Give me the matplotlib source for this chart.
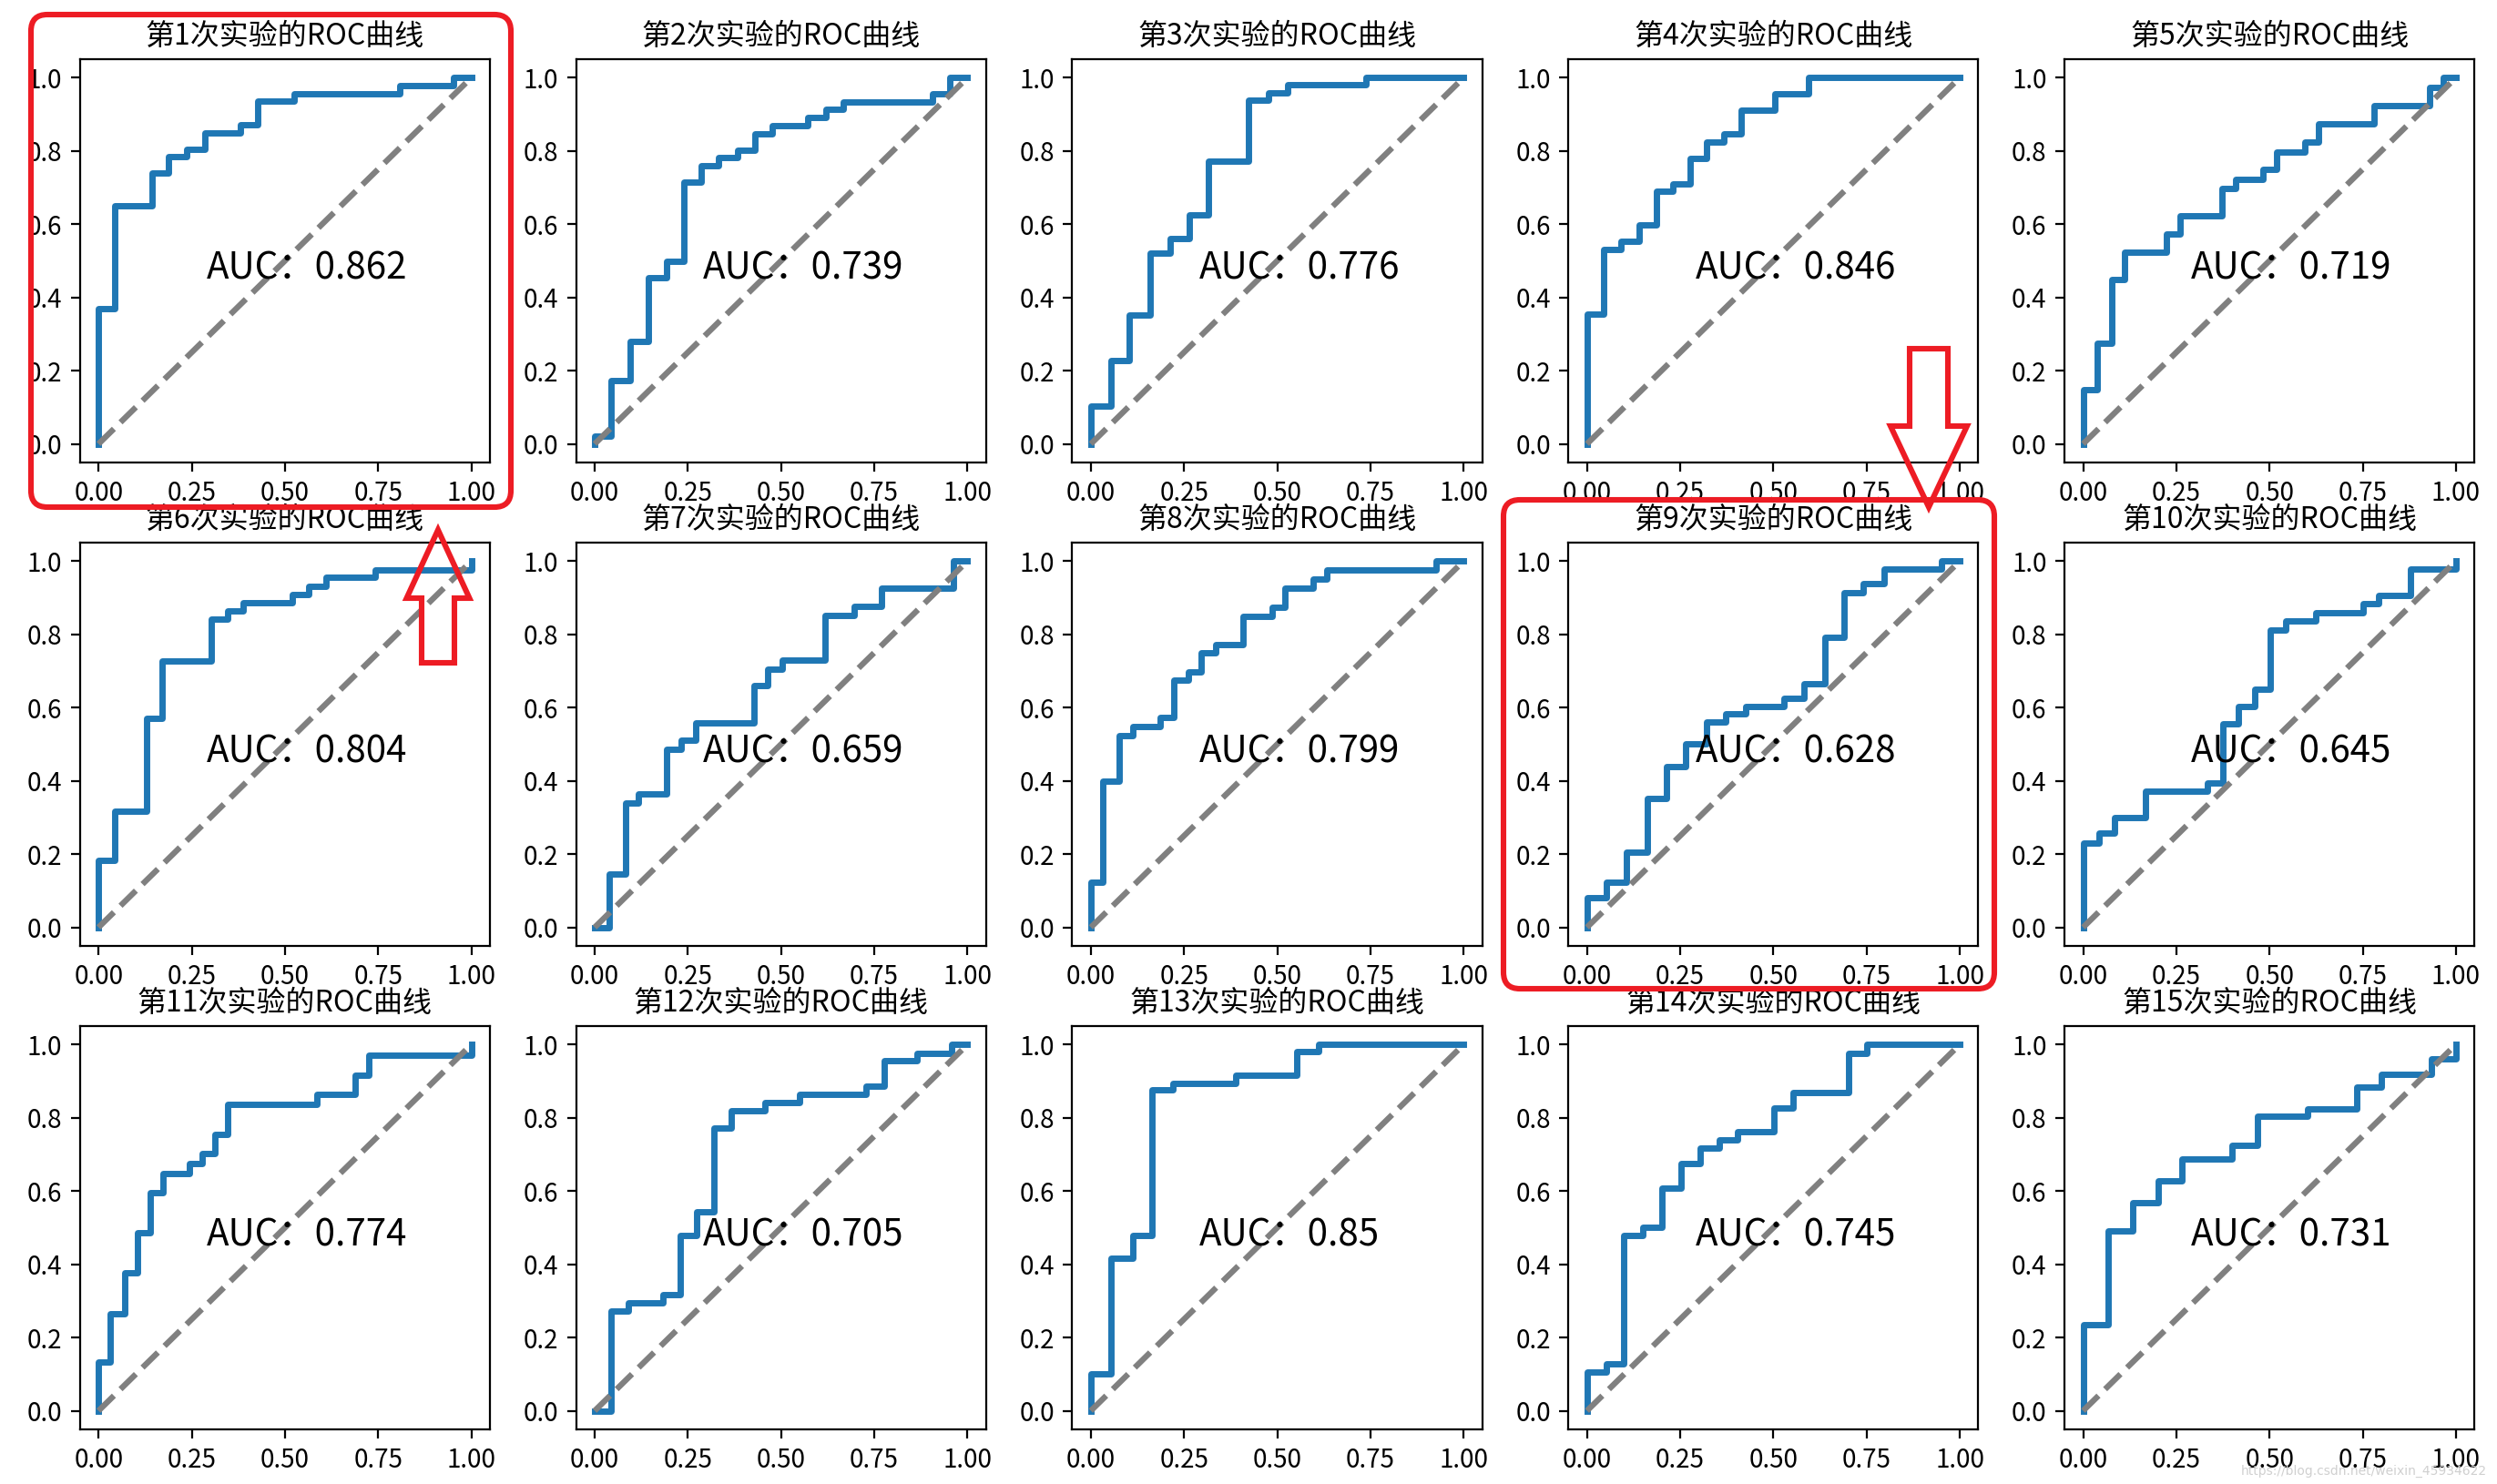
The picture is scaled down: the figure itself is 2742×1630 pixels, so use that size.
import matplotlib
matplotlib.use('Agg')
import matplotlib.pyplot as plt
from matplotlib.patches import FancyBboxPatch, FancyArrow

plt.rcParams['font.family'] = ['Noto Sans CJK SC', 'DejaVu Sans']
plt.rcParams['axes.unicode_minus'] = False

# ROC curves: x where tpr jumps (fpr) and tpr level after each jump
fpr_steps = [
    [0, 0.044, 0.143, 0.188, 0.236, 0.285, 0.380, 0.428, 0.525, 0.808, 0.952],
    [0, 0.044, 0.095, 0.145, 0.192, 0.240, 0.286, 0.333, 0.383, 0.430, 0.476, 0.571, 0.621, 0.668, 0.906, 0.952],
    [0, 0.053, 0.104, 0.160, 0.212, 0.265, 0.316, 0.423, 0.477, 0.528, 0.737],
    [0, 0.044, 0.092, 0.139, 0.187, 0.231, 0.277, 0.321, 0.366, 0.413, 0.503, 0.595],
    [0, 0.039, 0.076, 0.111, 0.224, 0.260, 0.372, 0.410, 0.482, 0.519, 0.595, 0.631, 0.781, 0.929, 0.965],
    [0, 0.044, 0.129, 0.171, 0.302, 0.346, 0.389, 0.521, 0.564, 0.610, 0.742, 1.0],
    [0.039, 0.082, 0.116, 0.192, 0.231, 0.272, 0.427, 0.464, 0.502, 0.617, 0.697, 0.770, 0.963],
    [0, 0.032, 0.075, 0.112, 0.185, 0.222, 0.261, 0.295, 0.334, 0.409, 0.486, 0.520, 0.596, 0.632, 0.927],
    [0, 0.053, 0.107, 0.162, 0.213, 0.265, 0.320, 0.371, 0.425, 0.529, 0.583, 0.638, 0.689, 0.740, 0.796, 0.952],
    [0, 0.042, 0.084, 0.168, 0.334, 0.375, 0.417, 0.460, 0.501, 0.543, 0.625, 0.751, 0.793, 0.877, 1.0],
    [0, 0.032, 0.070, 0.104, 0.139, 0.173, 0.244, 0.278, 0.312, 0.346, 0.587, 0.689, 0.725, 1.0],
    [0.044, 0.090, 0.184, 0.230, 0.274, 0.320, 0.366, 0.456, 0.549, 0.728, 0.776, 0.864, 0.957],
    [0, 0.054, 0.112, 0.165, 0.219, 0.389, 0.553, 0.610],
    [0, 0.051, 0.099, 0.150, 0.201, 0.252, 0.303, 0.354, 0.405, 0.502, 0.553, 0.702, 0.750],
    [0, 0.068, 0.133, 0.201, 0.266, 0.399, 0.467, 0.601, 0.734, 0.801, 0.935, 1.0],
]
tpr_steps = [
    [0.369, 0.651, 0.740, 0.784, 0.804, 0.849, 0.871, 0.935, 0.957, 0.978, 1.0],
    [0.022, 0.173, 0.280, 0.455, 0.498, 0.716, 0.760, 0.782, 0.802, 0.846, 0.868, 0.891, 0.913, 0.933, 0.957, 1.0],
    [0.104, 0.228, 0.353, 0.522, 0.562, 0.625, 0.773, 0.938, 0.958, 0.980, 1.0],
    [0.354, 0.531, 0.553, 0.599, 0.689, 0.711, 0.780, 0.824, 0.846, 0.911, 0.956, 1.0],
    [0.149, 0.274, 0.449, 0.524, 0.573, 0.624, 0.698, 0.722, 0.749, 0.798, 0.825, 0.873, 0.923, 0.973, 1.0],
    [0.183, 0.317, 0.570, 0.728, 0.842, 0.863, 0.887, 0.908, 0.932, 0.955, 0.977, 1.0],
    [0.146, 0.340, 0.364, 0.486, 0.510, 0.559, 0.660, 0.705, 0.730, 0.852, 0.876, 0.926, 1.0],
    [0.124, 0.400, 0.524, 0.548, 0.574, 0.674, 0.698, 0.750, 0.773, 0.850, 0.874, 0.925, 0.951, 0.977, 1.0],
    [0.081, 0.124, 0.206, 0.353, 0.439, 0.501, 0.561, 0.583, 0.604, 0.625, 0.666, 0.791, 0.915, 0.938, 0.979, 1.0],
    [0.229, 0.257, 0.300, 0.371, 0.394, 0.557, 0.604, 0.651, 0.812, 0.837, 0.859, 0.883, 0.906, 0.979, 1.0],
    [0.133, 0.266, 0.377, 0.487, 0.595, 0.648, 0.675, 0.702, 0.755, 0.837, 0.864, 0.917, 0.972, 1.0],
    [0.272, 0.294, 0.318, 0.478, 0.544, 0.771, 0.820, 0.842, 0.864, 0.886, 0.956, 0.977, 1.0],
    [0.102, 0.416, 0.478, 0.876, 0.895, 0.915, 0.980, 1.0],
    [0.105, 0.129, 0.478, 0.500, 0.607, 0.675, 0.718, 0.740, 0.762, 0.826, 0.869, 0.977, 1.0],
    [0.234, 0.491, 0.567, 0.627, 0.687, 0.725, 0.804, 0.824, 0.884, 0.919, 0.960, 1.0],
]
auc_values = [0.862, 0.739, 0.776, 0.846, 0.719, 0.804, 0.659, 0.799, 0.628, 0.645,
              0.774, 0.705, 0.85, 0.745, 0.731]

DPI = 200
W, H = 2742, 1630
fig, axes = plt.subplots(3, 5, figsize=(W / DPI, H / DPI), dpi=DPI)
fig.subplots_adjust(left=0.032, right=0.991, bottom=0.037, top=0.960, wspace=0.21, hspace=0.2)

for i, ax in enumerate(axes.flat):
    x = [0] + fpr_steps[i] + [1]
    y = [0] + tpr_steps[i] + [tpr_steps[i][-1]]
    ax.step(x, y, where='post', color='#1f77b4', lw=2.5)
    ax.plot([0, 1], [0, 1], '--', color='grey', lw=2.3)
    ax.text(0.29, 0.45, 'AUC：' + str(auc_values[i]), fontsize=14.5)
    ax.set_title('第%d次实验的ROC曲线' % (i + 1), fontsize=11.5)
    ax.set_xticks([0, 0.25, 0.5, 0.75, 1.0])
    ax.set_yticks([0, 0.2, 0.4, 0.6, 0.8, 1.0])


# red markup, positions given in image pixels (top-left origin)
def px(x, y):
    return x / DPI, (H - y) / DPI

red = '#ED1C24'
for (x0, y0, x1, y1) in [(34, 16, 561, 557), (1651, 549, 2190, 1086)]:
    bx, by = px(x0, y1)
    box = FancyBboxPatch((bx, by), (x1 - x0) / DPI, (y1 - y0) / DPI,
                         boxstyle='round,pad=0,rounding_size=0.09',
                         fill=False, ec=red, lw=2.2,
                         transform=fig.dpi_scale_trans, zorder=10)
    fig.add_artist(box)

# up arrow near subplot 6, down arrow above subplot 9
for (tx, ty, hx, hy, hw, hl, sw) in [(481, 728, 481, 582, 69, 75, 36),
                                     (2118, 383, 2118, 557, 84, 89, 42)]:
    sx, sy = px(tx, ty)
    ex, ey = px(hx, hy)
    arr = FancyArrow(sx, sy, ex - sx, ey - sy, width=sw / DPI,
                     head_width=hw / DPI, head_length=hl / DPI,
                     length_includes_head=True, fill=False, ec=red, lw=2.2,
                     transform=fig.dpi_scale_trans, zorder=10)
    fig.add_artist(arr)

fig.text(0.8975, 0.006, 'https://blog.csdn.net/weixin_45934622', fontsize=5,
         color='#d0d0d0', family='DejaVu Sans')

plt.savefig('out.png', dpi=DPI)
